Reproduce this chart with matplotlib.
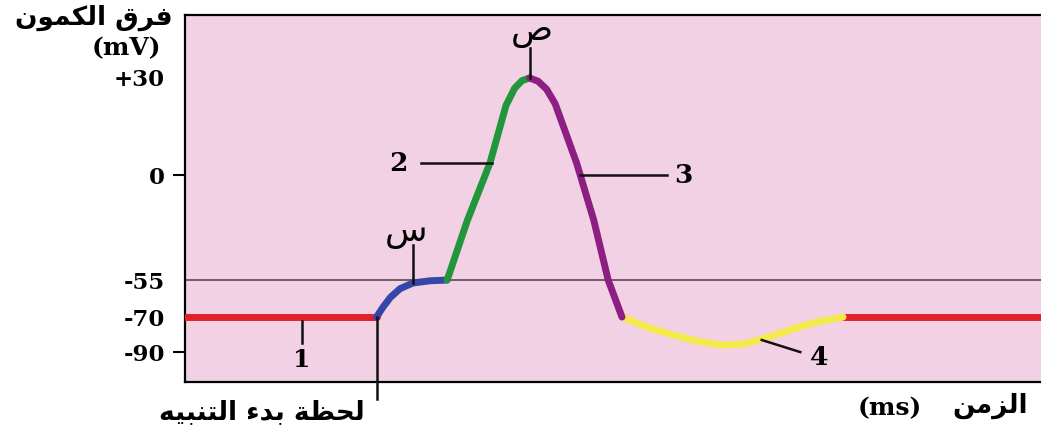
import numpy as np
import matplotlib.pyplot as plt

# Arabic labels (logical order)
y_title = "فرق الكمون"
x_title = "الزمن"
stim_label = "لحظة بدء التنبيه"
thresh_label = "س"
peak_label = "ص"

# y ticks (mV)
ytick_vals = [30, 0, -55, -70, -90]
ytick_text = ["+30", "0", "-55", "-70", "-90"]
marked_ticks = [0, -90]

# action potential phases, time in ms, voltage in mV
rest1_t = [0.0, 1.79]
rest1_v = [-70, -70]
depol_t = [1.79, 1.85, 1.92, 2.01, 2.13, 2.29, 2.45]
depol_v = [-70, -66, -62, -58.5, -56.2, -55.3, -55]
rise_t = [2.45, 2.64, 2.85, 3.0, 3.08, 3.15, 3.22]
rise_v = [-55, -23.6, 3.7, 21.5, 26.8, 29.2, 30]
fall_t = [3.22, 3.30, 3.38, 3.46, 3.66, 3.82, 3.955, 4.084]
fall_v = [30, 29.0, 26.5, 22.0, 3.7, -23.6, -55, -70]
hyper_t = [4.084, 4.35, 4.63, 4.81, 5.01, 5.21, 5.37, 5.55, 5.74, 5.93, 6.15]
hyper_v = [-70, -76.5, -81.4, -84, -86, -85.5, -83, -79.5, -75.7, -72.5, -70]
rest2_t = [6.15, 8.1]
rest2_v = [-70, -70]
threshold = -55
stim_t = 1.79

# ---- Arabic shaping (matplotlib has no complex text layout) ----
FORMS = {
    'ء': (0xFE80,),
    'ا': (0xFE8D, 0xFE8E),
    'ب': (0xFE8F, 0xFE90, 0xFE91, 0xFE92),
    'ة': (0xFE93, 0xFE94),
    'ت': (0xFE95, 0xFE96, 0xFE97, 0xFE98),
    'ح': (0xFEA1, 0xFEA2, 0xFEA3, 0xFEA4),
    'د': (0xFEA9, 0xFEAA),
    'ر': (0xFEAD, 0xFEAE),
    'ز': (0xFEAF, 0xFEB0),
    'س': (0xFEB1, 0xFEB2, 0xFEB3, 0xFEB4),
    'ص': (0xFEB9, 0xFEBA, 0xFEBB, 0xFEBC),
    'ظ': (0xFEC5, 0xFEC6, 0xFEC7, 0xFEC8),
    'ف': (0xFED1, 0xFED2, 0xFED3, 0xFED4),
    'ق': (0xFED5, 0xFED6, 0xFED7, 0xFED8),
    'ك': (0xFED9, 0xFEDA, 0xFEDB, 0xFEDC),
    'ل': (0xFEDD, 0xFEDE, 0xFEDF, 0xFEE0),
    'م': (0xFEE1, 0xFEE2, 0xFEE3, 0xFEE4),
    'ن': (0xFEE5, 0xFEE6, 0xFEE7, 0xFEE8),
    'ه': (0xFEE9, 0xFEEA, 0xFEEB, 0xFEEC),
    'و': (0xFEED, 0xFEEE),
    'ي': (0xFEF1, 0xFEF2, 0xFEF3, 0xFEF4),
}


def shape(s):
    out = []
    for i, c in enumerate(s):
        f = FORMS.get(c)
        if f is None:
            out.append(c)
            continue
        prev = s[i-1] if i > 0 else ''
        nxt = s[i+1] if i + 1 < len(s) else ''
        jp = len(FORMS.get(prev, ())) == 4 and len(f) >= 2
        jn = len(f) == 4 and len(FORMS.get(nxt, ())) >= 2
        idx = {(False, False): 0, (True, False): 1, (False, True): 2, (True, True): 3}[(jp, jn)]
        out.append(chr(f[idx]))
    return ''.join(out)[::-1]


# schematic (non-linear) voltage axis
mv_anchor = [-300, -90, -70, -55, 0, 30, 300]
h_anchor = [-287.5, 80, 115, 152, 257, 354, 1226]
fwd = lambda v: np.interp(v, mv_anchor, h_anchor)
inv = lambda h: np.interp(h, h_anchor, mv_anchor)

W, H = 1041, 432
fig = plt.figure(figsize=(W/100, H/100), dpi=100)
ax = fig.add_axes([185/W, 50/H, 1 - 185/W, 367/H])
ax.set_facecolor('#F1D1E3')
ax.set_yscale('function', functions=(fwd, inv))
ax.set_xlim(0, 8.0)
ax.set_ylim(-107.1, 49.5)

ax.axhline(threshold, color='#4a3d4a', lw=1.1, zorder=1)

lw = 5
kw = dict(lw=lw, solid_capstyle='round', solid_joinstyle='round', zorder=3)
ax.plot(rest1_t, rest1_v, color='#E31F2A', **kw)
ax.plot(rest2_t, rest2_v, color='#E31F2A', **kw)
ax.plot(hyper_t, hyper_v, color='#F4EA4C', **kw)
ax.plot(depol_t, depol_v, color='#3546A8', **kw)
ax.plot(rise_t, rise_v, color='#22963A', **kw)
ax.plot(fall_t, fall_v, color='#8E1F82', **kw)

# annotation leaders
lk = dict(color='#111111', lw=1.8, zorder=4)
ax.plot([1.09, 1.09], [-72, -84.9], **lk)
ax.plot([stim_t, stim_t], [-70, -117], clip_on=False, **lk)
ax.plot([2.13, 2.13], [-36.7, -56.2], **lk)
ax.plot([3.22, 3.22], [39.3, 30], **lk)
ax.plot([2.21, 2.87], [3.7, 3.7], **lk)
ax.plot([3.69, 4.50], [0, 0], **lk)
ax.plot([5.39, 5.75], [-83.1, -90], **lk)

serif = dict(family='DejaVu Serif', fontweight='bold')
ax.text(1.09, -94.6, "1", ha='center', va='center', fontsize=18, **serif)
ax.text(1.99, 3.7, "2", ha='center', va='center', fontsize=19, **serif)
ax.text(4.66, 0, "3", ha='center', va='center', fontsize=19, **serif)
ax.text(5.93, -93.2, "4", ha='center', va='center', fontsize=19, **serif)
ax.text(2.07, -29.9, shape(thresh_label), ha='center', va='center',
        family='DejaVu Sans', fontsize=25)
ax.text(3.24, 44.5, shape(peak_label), ha='center', va='center',
        family='DejaVu Sans', fontsize=25)

# ticks
ax.set_yticks(ytick_vals)
ax.set_yticklabels(ytick_text, fontsize=16.5, **serif)
ax.tick_params(axis='y', which='major', length=8.5, width=1.5, pad=6)
for val, tick in zip(ytick_vals, ax.yaxis.get_major_ticks()):
    if val not in marked_ticks:
        tick.tick1line.set_markersize(0)
ax.set_xticks([])
ax.spines['right'].set_visible(False)
for s in ['left', 'bottom', 'top']:
    ax.spines[s].set_linewidth(1.6)

# axis titles
ar = dict(family='DejaVu Sans', fontweight='bold', fontsize=19)
fig.text(94/W, 1 - 18/H, shape(y_title), ha='center', va='center', **ar)
fig.text(126/W, 1 - 48/H, "(mV)", ha='center', va='center', fontsize=18, **serif)
fig.text(890/W, 1 - 408/H, "(ms)", ha='center', va='center', fontsize=18, **serif)
fig.text(990/W, 1 - 406/H, shape(x_title), ha='center', va='center', **ar)
fig.text(262/W, 1 - 412/H, shape(stim_label), ha='center', va='center', **ar)

fig.savefig('out.png', dpi=100)
